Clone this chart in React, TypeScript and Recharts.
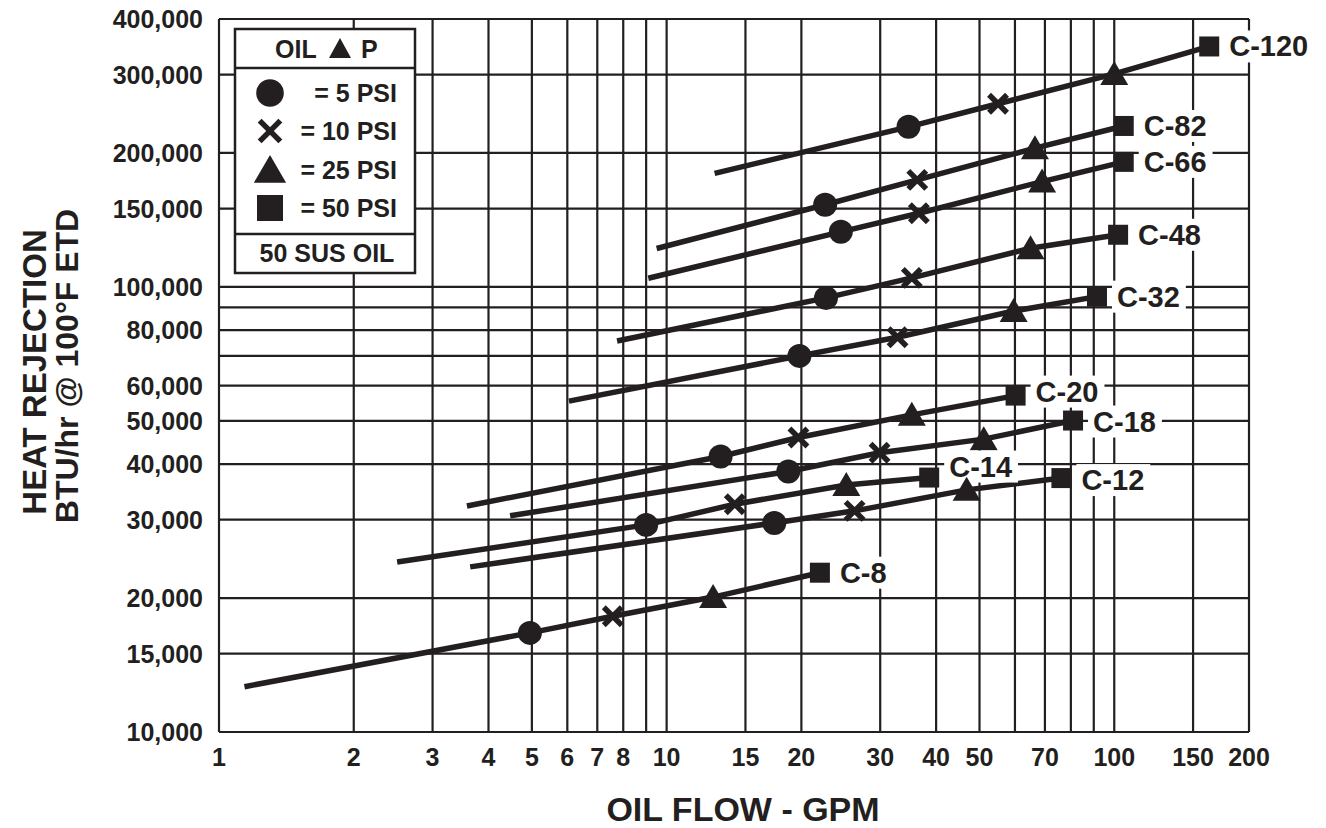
import React from 'react';
import { LineChart, Line, XAxis, YAxis, CartesianGrid, Legend } from 'recharts';

const INK = '#231f20';
const FONT = '"Liberation Sans", Arial, Helvetica, sans-serif';

// Oil cooler models (end label of each line)
const MODELS = ['C-120', 'C-82', 'C-66', 'C-48', 'C-32', 'C-20', 'C-18', 'C-14', 'C-12', 'C-8'];
// Point order along every line: start of line, then oil pressure drop markers
const MARKERS = ['none', '5 PSI', '10 PSI', '25 PSI', '50 PSI'];

// Oil flow (GPM) per model
const FLOW_C120 = [12.8, 34.7, 55, 100, 163];
const FLOW_C82 = [9.5, 22.6, 36.3, 66.5, 105];
const FLOW_C66 = [9.1, 24.5, 36.6, 69, 105];
const FLOW_C48 = [7.75, 22.7, 35.3, 65, 102];
const FLOW_C32 = [6.05, 19.8, 32.8, 59.6, 91.5];
const FLOW_C20 = [3.58, 13.2, 19.7, 35.3, 60.2];
const FLOW_C18 = [4.47, 18.7, 29.9, 51.1, 80.9];
const FLOW_C14 = [2.5, 9.0, 14.2, 25.2, 38.6];
const FLOW_C12 = [3.64, 17.4, 26.3, 46.8, 76.2];
const FLOW_C8 = [1.14, 4.95, 7.58, 12.7, 22.0];

// Heat rejection (BTU/hr @ 100°F ETD) per model
const BTU_C120 = [180000, 229000, 258000, 301000, 347000];
const BTU_C82 = [122000, 153000, 174000, 205000, 230000];
const BTU_C66 = [104600, 133000, 146400, 172500, 191000];
const BTU_C48 = [75600, 94500, 104800, 122200, 131000];
const BTU_C32 = [55400, 70000, 77100, 88300, 95100];
const BTU_C20 = [32200, 41600, 45900, 51600, 57000];
const BTU_C18 = [30600, 38500, 42400, 45500, 50100];
const BTU_C14 = [24100, 29200, 32500, 35900, 37300];
const BTU_C12 = [23500, 29500, 31400, 35000, 37200];
const BTU_C8 = [12640, 16700, 18200, 20100, 22800];

const X_TICKS = [1, 2, 3, 4, 5, 6, 7, 8, 9, 10, 15, 20, 30, 40, 50, 60, 70, 80, 90, 100, 150, 200];
const X_LABELS = [1, 2, 3, 4, 5, 6, 7, 8, 10, 15, 20, 30, 40, 50, 70, 100, 150, 200];
const Y_TICKS = [10000, 15000, 20000, 30000, 40000, 50000, 60000, 70000, 80000, 90000, 100000, 150000, 200000, 300000, 400000];
const Y_LABELS = [10000, 15000, 20000, 30000, 40000, 50000, 60000, 80000, 100000, 150000, 200000, 300000, 400000];

const FLOWS = [FLOW_C120, FLOW_C82, FLOW_C66, FLOW_C48, FLOW_C32, FLOW_C20, FLOW_C18, FLOW_C14, FLOW_C12, FLOW_C8];
const BTUS = [BTU_C120, BTU_C82, BTU_C66, BTU_C48, BTU_C32, BTU_C20, BTU_C18, BTU_C14, BTU_C12, BTU_C8];

const SERIES = MODELS.map((model, i) => ({
  model,
  data: FLOWS[i].map((x, j) => ({ x, y: BTUS[i][j], kind: MARKERS[j] })),
}));

const LABEL_DY: Record<string, number> = { 'C-20': -4, 'C-14': -11, 'C-12': 2, 'C-18': 1 };

const CHAR_W: Record<string, number> = { C: 0.722, '-': 0.333 };
const textWidth = (s: string, size: number) =>
  s.split('').reduce((a, c) => a + (CHAR_W[c] ?? 0.556), 0) * size;

function Marker({ kind, cx, cy, big = false }: { kind: string; cx: number; cy: number; big?: boolean }) {
  const k = big ? 1.15 : 1;
  if (kind === '5 PSI') return <circle cx={cx} cy={cy} r={12 * k} fill={INK} />;
  if (kind === '10 PSI') {
    const h = 9 * k;
    return (
      <g stroke={INK} strokeWidth={5.5}>
        <line x1={cx - h} y1={cy - h} x2={cx + h} y2={cy + h} />
        <line x1={cx - h} y1={cy + h} x2={cx + h} y2={cy - h} />
      </g>
    );
  }
  if (kind === '25 PSI') {
    const w = 14 * k;
    return <polygon points={`${cx},${cy - 13 * k} ${cx - w},${cy + 11 * k} ${cx + w},${cy + 11 * k}`} fill={INK} />;
  }
  if (kind === '50 PSI') {
    const s = big ? 13 : 10;
    return <rect x={cx - s} y={cy - s} width={2 * s} height={2 * s} fill={INK} />;
  }
  return null;
}

const makeDot = (model: string) => (p: any) => {
  const { cx, cy, index } = p;
  const key = `${model}-${index}`;
  if (cx == null || cy == null) return <g key={key} />;
  const kind = MARKERS[index];
  const isEnd = index === MARKERS.length - 1;
  const size = 29;
  const dy = LABEL_DY[model] ?? 0;
  const tw = textWidth(model, size);
  return (
    <g key={key}>
      {isEnd && (
        <g>
          <rect x={cx + 15} y={cy + dy - 16} width={tw + 11} height={32} fill="#fff" />
          <text
            x={cx + 20}
            y={cy + dy}
            dominantBaseline="central"
            fontFamily={FONT}
            fontWeight="bold"
            fontSize={size}
            fill={INK}
          >
            {model}
          </text>
        </g>
      )}
      <Marker kind={kind} cx={cx} cy={cy} />
    </g>
  );
};

const XTick = (props: any) => {
  const { x, y, payload } = props;
  const v = payload.value;
  if (!X_LABELS.includes(v)) return <g />;
  return (
    <text x={x} y={y} textAnchor="middle" dominantBaseline="central" fontFamily={FONT} fontWeight="bold" fontSize={25} fill={INK}>
      {v}
    </text>
  );
};

const YTick = (props: any) => {
  const { x, y, payload } = props;
  const v = payload.value;
  if (!Y_LABELS.includes(v)) return <g />;
  return (
    <text x={x} y={y} textAnchor="end" dominantBaseline="central" fontFamily={FONT} fontWeight="bold" fontSize={25} fill={INK}>
      {v.toLocaleString('en-US')}
    </text>
  );
};

const XTitle = () => (
  <text x={735} y={821} textAnchor="middle" fontFamily={FONT} fontWeight="bold" fontSize={34} fill={INK}>
    OIL FLOW - GPM
  </text>
);

const YTitle = () => (
  <g fontFamily={FONT} fontWeight="bold" fill={INK} textAnchor="middle">
    <text x={38} y={372} fontSize={33} transform="rotate(-90, 38, 372)">
      HEAT REJECTION
    </text>
    <text x={70} y={366} fontSize={32} transform="rotate(-90, 70, 366)">
      BTU/hr @ 100°F ETD
    </text>
  </g>
);

const LegendBox = () => {
  const rows = MARKERS.slice(1);
  const rowY = [64, 102, 141, 179];
  const t = { fontFamily: FONT, fontWeight: 'bold' as const, fontSize: 25, fill: INK };
  return (
    <svg width={184} height={248} style={{ display: 'block' }}>
      <g transform="translate(2,2)">
        <rect x={0} y={0} width={180} height={244} fill="#fff" stroke={INK} strokeWidth={2.5} />
        <line x1={0} x2={180} y1={39} y2={39} stroke={INK} strokeWidth={2.5} />
        <line x1={0} x2={180} y1={205} y2={205} stroke={INK} strokeWidth={2.5} />
        <text x={40} y={20} dominantBaseline="central" {...t}>OIL</text>
        <polygon points="105,9 94,29 116,29" fill={INK} />
        <text x={126} y={20} dominantBaseline="central" {...t}>P</text>
        {rows.map((r, i) => (
          <g key={r}>
            <Marker kind={r} cx={35} cy={rowY[i]} big />
            <text x={162} y={rowY[i]} textAnchor="end" dominantBaseline="central" {...t}>
              {`= ${r}`}
            </text>
          </g>
        ))}
        <text x={92} y={224} textAnchor="middle" dominantBaseline="central" {...t}>50 SUS OIL</text>
      </g>
    </svg>
  );
};

export default function App() {
  return (
    <div style={{ width: 1310, height: 828, marginTop: -8 }}>
      <LineChart width={1310} height={828} margin={{ top: 19, right: 69, bottom: 0, left: 0 }}>
        <CartesianGrid stroke={INK} strokeWidth={2.2} horizontal vertical />
        <XAxis
          type="number"
          dataKey="x"
          scale="log"
          domain={[1, 200]}
          ticks={X_TICKS}
          interval={0}
          axisLine={false}
          tickLine={false}
          tickSize={0}
          tickMargin={25}
          height={96}
          tick={<XTick />}
          label={<XTitle />}
        />
        <YAxis
          type="number"
          dataKey="y"
          scale="log"
          domain={[10000, 400000]}
          ticks={Y_TICKS}
          interval={0}
          axisLine={false}
          tickLine={false}
          tickSize={0}
          tickMargin={16}
          width={211}
          tick={<YTick />}
          label={<YTitle />}
        />
        <Legend
          layout="vertical"
          align="center"
          verticalAlign="middle"
          content={<LegendBox />}
          wrapperStyle={{ left: 225, top: 27, width: 184, height: 248 }}
        />
        {SERIES.map((s) => (
          <Line
            key={s.model}
            data={s.data}
            dataKey="y"
            type="linear"
            stroke={INK}
            strokeWidth={5.5}
            dot={makeDot(s.model)}
            activeDot={false}
            isAnimationActive={false}
            legendType="none"
          />
        ))}
      </LineChart>
    </div>
  );
}
